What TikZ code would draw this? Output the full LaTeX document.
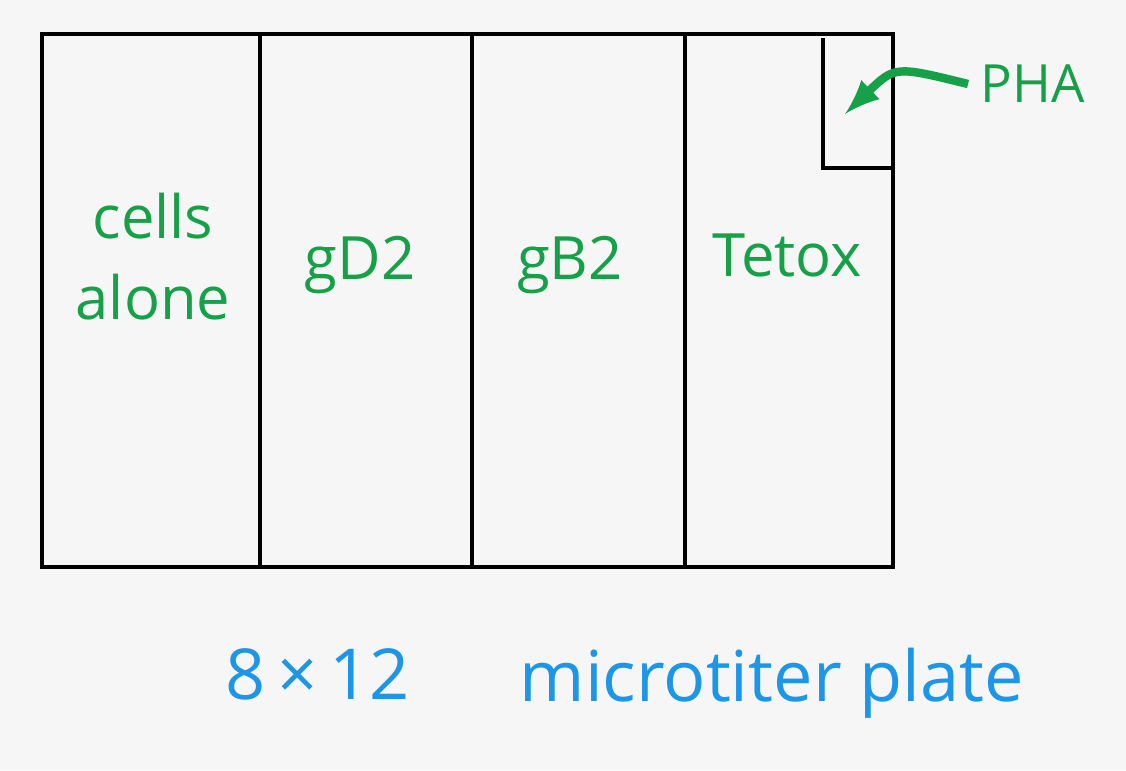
\documentclass[tikz,border=0pt]{standalone}
\usepackage{fontspec}
\setmainfont{Open Sans}
\usepackage{tikz}
\definecolor{penGreen}{RGB}{22,160,72}
\definecolor{penBlue}{RGB}{30,150,232}
\definecolor{paper}{RGB}{246,246,246}

\tikzset{
  plateline/.style={line width=1.4pt, black},
  greenlabel/.style={text=penGreen, font=\fontsize{17}{23}\selectfont, align=center},
  bluelabel/.style={text=penBlue, font=\fontsize{20}{25}\selectfont}
}

\begin{document}
\begin{tikzpicture}[x=0.1mm,y=-0.1mm,>=latex]
%paper
\fill[paper] (0,0) rectangle (1126,770);
\useasboundingbox (0,0) rectangle (1126,770);
%plate
\draw[plateline] (42,34) rectangle (893,567);
\foreach \x in {260,472,685}
{
  \draw[plateline] (\x,34) -- (\x,567);
}
%PHA well
\draw[plateline] (823,38) -- (823,168) -- (893,168);
\coordinate (phawell) at (845,114);
%lane labels
\node[greenlabel] (cells) at (153,257) {cells\\alone};
\node[greenlabel] (gd) at (360,265) {gD2};
\node[greenlabel] (gb) at (570,265) {gB2};
\node[greenlabel] (tetox) at (787,255) {Tetox};
%PHA label
\node[greenlabel, font=\fontsize{15}{20}\selectfont, anchor=west] (pha) at (968,84) {PHA};
\draw[->, penGreen, line width=2.4pt] (pha.west) .. controls (895,66) .. (phawell);
%caption
\node[bluelabel] (size) at (318,674) {8\,×\,12};
\node[bluelabel] (plate) at (772,683) {microtiter plate};
\end{tikzpicture}
\end{document}
